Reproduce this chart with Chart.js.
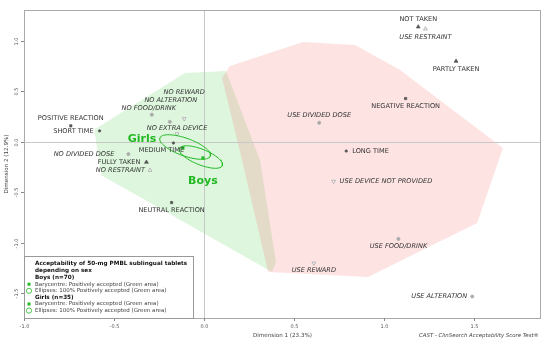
<!DOCTYPE html>
<html>
<head>
<meta charset="utf-8">
<script src="https://cdn.jsdelivr.net/npm/chart.js@4.4.0/dist/chart.umd.min.js"></script>
<style>
  html, body { margin: 0; padding: 0; background: #fff; }
  #wrap { width: 550px; height: 346px; }
</style>
</head>
<body>
<div id="wrap"><canvas id="mcaChart" width="550" height="346"></canvas></div>
<script>
// modalities of the MCA map
var modNames = ['NOT TAKEN', 'USE RESTRAINT', 'PARTLY TAKEN', 'NEGATIVE REACTION', 'USE DIVIDED DOSE',
    'LONG TIME', 'USE DEVICE NOT PROVIDED', 'USE FOOD/DRINK', 'USE REWARD', 'USE ALTERATION',
    'NEUTRAL REACTION', 'MEDIUM TIME', 'NO EXTRA DEVICE', 'NO REWARD', 'NO ALTERATION',
    'NO FOOD/DRINK', 'POSITIVE REACTION', 'SHORT TIME', 'NO DIVIDED DOSE', 'FULLY TAKEN', 'NO RESTRAINT'];
var dim1 = [1.19, 1.23, 1.40, 1.12, 0.64, 0.79, 0.72, 1.08, 0.61, 1.49,
    -0.18, -0.17, -0.15, -0.11, -0.19, -0.29, -0.74, -0.58, -0.42, -0.32, -0.30];
var dim2 = [1.14, 1.12, 0.80, 0.43, 0.19, -0.09, -0.39, -0.96, -1.20, -1.53,
    -0.60, -0.01, 0.08, 0.23, 0.20, 0.27, 0.16, 0.11, -0.12, -0.20, -0.28];
var modKind = ['tri', 'triOpen', 'tri', 'sq', 'dotGray', 'dot', 'down', 'dotGray', 'down', 'dotGray',
    'sq', 'dot', 'down', 'down', 'dotGray', 'dotGray', 'sq', 'dot', 'dotGray', 'tri', 'triOpen'];

// barycentres of the groups
var groupNames = ['Girls', 'Boys'];
var groupDim1 = [-0.117, -0.006];
var groupDim2 = [-0.059, -0.158];

// 100% confidence ellipses: centre and the two semi-axis vectors (data units)
var ellCentre = [[-0.105, -0.05], [-0.017, -0.149]];
var ellMajor = [[0.140, -0.090], [0.119, -0.085]];
var ellMinor = [[-0.017, -0.082], [-0.016, -0.072]];

// acceptability areas (hulls)
var greenArea = [[-0.61, 0.12], [-0.106, 0.683], [0.122, 0.703], [0.311, -0.178], [0.40, -1.188],
    [0.378, -1.287], [-0.57, -0.33]];
var redArea = [[0.10, 0.634], [0.144, 0.752], [0.55, 0.99], [0.839, 0.96], [1.089, 0.713],
    [1.661, -0.059], [1.517, -0.802], [0.911, -1.337], [0.356, -1.287], [0.211, -0.178]];

var xTicks = [-1.0, -0.5, 0.0, 0.5, 1.0, 1.5];
var yTicks = [1.0, 0.5, 0.0, -0.5, -1.0, -1.5];

var legendTitle = ['Acceptability of 50-mg PMBL sublingual tablets', 'depending on sex'];
var legendGroups = ['Boys (n=70)', 'Girls (n=35)'];
var legendItems = ['Barycentre: Positively accepted (Green area)', 'Ellipses: 100% Positively accepted (Green area)'];

// label placement for each modality: [dx, dy, align]
var labelPlace = [
    [0, -8, 'center'], [0, 8, 'center'], [0, 8, 'center'], [0, 8, 'center'], [0, -8, 'center'],
    [6, 0, 'left'], [6, 0, 'left'], [0, 7, 'center'], [0, 7, 'center'], [-5, 0, 'right'],
    [0, 8, 'center'], [-12, 7, 'center'], [0, -6, 'center'], [0, -26, 'center'], [1, -22, 'center'],
    [-3, -6, 'center'], [0, -8, 'center'], [-6, 0, 'right'], [-14, 0, 'right'], [-6, 0, 'right'], [-5, 0, 'right']
];
var groupLabelPlace = [[-41, -9], [0, 23]];

var GREEN = '#22b822';
var FONT = '"DejaVu Sans", sans-serif';

var kindStyle = {
    tri:     { pointStyle: 'triangle', rotation: 0,   fill: '#555', stroke: '#555', r: 2.2 },
    triOpen: { pointStyle: 'triangle', rotation: 0,   fill: '#fff', stroke: '#999', r: 2.2 },
    sq:      { pointStyle: 'rect',     rotation: 0,   fill: '#555', stroke: '#555', r: 1.6 },
    dot:     { pointStyle: 'circle',   rotation: 0,   fill: '#555', stroke: '#555', r: 1.2 },
    dotGray: { pointStyle: 'circle',   rotation: 0,   fill: '#aaa', stroke: '#aaa', r: 1.6 },
    down:    { pointStyle: 'triangle', rotation: 180, fill: '#fff', stroke: '#999', r: 2.2 }
};

var modPoints = [];
for (var i = 0; i < modNames.length; i++) {
    modPoints.push({ x: dim1[i], y: dim2[i] });
}
var groupPoints = [];
for (var i = 0; i < groupNames.length; i++) {
    groupPoints.push({ x: groupDim1[i], y: groupDim2[i] });
}

function ellipsePoints(k) {
    var pts = [];
    for (var s = 0; s <= 72; s++) {
        var t = s / 72 * Math.PI * 2;
        pts.push({
            x: ellCentre[k][0] + ellMajor[k][0] * Math.cos(t) + ellMinor[k][0] * Math.sin(t),
            y: ellCentre[k][1] + ellMajor[k][1] * Math.cos(t) + ellMinor[k][1] * Math.sin(t)
        });
    }
    return pts;
}

function drawArea(ctx, xs, ys, area, color) {
    ctx.beginPath();
    for (var i = 0; i < area.length; i++) {
        var px = xs.getPixelForValue(area[i][0]);
        var py = ys.getPixelForValue(area[i][1]);
        if (i == 0) ctx.moveTo(px, py); else ctx.lineTo(px, py);
    }
    ctx.closePath();
    ctx.fillStyle = color;
    ctx.fill();
}

var backgroundPlugin = {
    id: 'background',
    beforeDatasetsDraw: function (chart) {
        var ctx = chart.ctx, a = chart.chartArea;
        var xs = chart.scales.x, ys = chart.scales.y;
        ctx.save();
        ctx.beginPath();
        ctx.rect(a.left, a.top, a.right - a.left, a.bottom - a.top);
        ctx.clip();
        ctx.lineJoin = 'round';
        drawArea(ctx, xs, ys, greenArea, 'rgba(120,220,120,0.25)');
        drawArea(ctx, xs, ys, redArea, 'rgba(250,128,128,0.22)');
        // zero lines
        ctx.strokeStyle = '#c8c8c8';
        ctx.lineWidth = 1;
        var x0 = Math.round(xs.getPixelForValue(0)) + 0.5;
        var y0 = Math.round(ys.getPixelForValue(0)) + 0.5;
        ctx.beginPath();
        ctx.moveTo(x0, a.top); ctx.lineTo(x0, a.bottom);
        ctx.moveTo(a.left, y0); ctx.lineTo(a.right, y0);
        ctx.stroke();
        ctx.restore();
    },
    afterDatasetsDraw: function (chart) {
        var ctx = chart.ctx;
        var xs = chart.scales.x, ys = chart.scales.y;
        ctx.save();
        // modality labels
        ctx.textBaseline = 'middle';
        ctx.fillStyle = '#333';
        for (var i = 0; i < modNames.length; i++) {
            var italic = modNames[i].indexOf('NO ') == 0 || modNames[i].indexOf('USE ') == 0;
            ctx.font = (italic ? 'italic ' : '') + '6.6px ' + FONT;
            ctx.textAlign = labelPlace[i][2];
            ctx.fillText(modNames[i], xs.getPixelForValue(dim1[i]) + labelPlace[i][0],
                ys.getPixelForValue(dim2[i]) + labelPlace[i][1]);
        }
        // group labels
        ctx.font = 'bold 11px ' + FONT;
        ctx.fillStyle = GREEN;
        ctx.textAlign = 'center';
        for (var i = 0; i < groupNames.length; i++) {
            ctx.fillText(groupNames[i], xs.getPixelForValue(groupDim1[i]) + groupLabelPlace[i][0],
                ys.getPixelForValue(groupDim2[i]) + groupLabelPlace[i][1]);
        }
        ctx.restore();
    },
    afterDraw: function (chart) {
        var ctx = chart.ctx, a = chart.chartArea;
        var xs = chart.scales.x, ys = chart.scales.y;
        ctx.save();
        // frame
        ctx.strokeStyle = '#aaa';
        ctx.lineWidth = 1;
        ctx.strokeRect(a.left + 0.5, a.top + 0.5, a.right - a.left - 1, a.bottom - a.top);
        // ticks
        ctx.fillStyle = '#555';
        ctx.strokeStyle = '#888';
        ctx.font = '5px ' + FONT;
        ctx.textAlign = 'center';
        ctx.textBaseline = 'middle';
        for (var i = 0; i < xTicks.length; i++) {
            var px = Math.round(xs.getPixelForValue(xTicks[i])) + 0.5;
            ctx.beginPath(); ctx.moveTo(px, a.bottom); ctx.lineTo(px, a.bottom + 3); ctx.stroke();
            ctx.fillText(xTicks[i].toFixed(1), px, a.bottom + 9);
        }
        for (var i = 0; i < yTicks.length; i++) {
            var py = Math.round(ys.getPixelForValue(yTicks[i])) + 0.5;
            ctx.beginPath(); ctx.moveTo(a.left - 3, py); ctx.lineTo(a.left, py); ctx.stroke();
            ctx.save();
            ctx.translate(a.left - 7, py);
            ctx.rotate(-Math.PI / 2);
            ctx.fillText(yTicks[i].toFixed(1), 0, 0);
            ctx.restore();
        }
        // axis titles
        ctx.fillStyle = '#444';
        ctx.font = '5.6px ' + FONT;
        ctx.fillText('Dimension 1 (23.3%)', (a.left + a.right) / 2, 336);
        ctx.save();
        ctx.translate(7, (a.top + a.bottom) / 2);
        ctx.rotate(-Math.PI / 2);
        ctx.fillText('Dimension 2 (12.9%)', 0, 0);
        ctx.restore();
        ctx.font = 'italic 5.4px ' + FONT;
        ctx.textAlign = 'right';
        ctx.fillText('CAST - ClinSearch Acceptability Score Test\u00ae', 539, 336);

        // legend box
        var bx = a.left, by = 256, bw = 169, bh = a.bottom - 256;
        ctx.fillStyle = '#fff';
        ctx.fillRect(bx, by, bw, bh);
        ctx.strokeStyle = '#999';
        ctx.strokeRect(bx + 0.5, by + 0.5, bw, bh);
        ctx.textAlign = 'left';
        ctx.fillStyle = '#111';
        var ly = by + 8;
        ctx.font = 'bold 5.7px ' + FONT;
        for (var i = 0; i < legendTitle.length; i++) {
            ctx.fillText(legendTitle[i], bx + 11, ly);
            ly += 6.8;
        }
        for (var g = 0; g < legendGroups.length; g++) {
            ctx.font = 'bold 5.7px ' + FONT;
            ctx.fillStyle = '#111';
            ctx.fillText(legendGroups[g], bx + 11, ly);
            ly += 6.6;
            ctx.font = '5.5px ' + FONT;
            for (var k = 0; k < legendItems.length; k++) {
                if (k == 0) {
                    ctx.fillStyle = GREEN;
                    ctx.fillRect(bx + 3.5, ly - 1.5, 3, 3);
                } else {
                    ctx.strokeStyle = GREEN;
                    ctx.lineWidth = 0.8;
                    ctx.beginPath(); ctx.arc(bx + 5, ly, 2.6, 0, Math.PI * 2); ctx.stroke();
                }
                ctx.fillStyle = '#444';
                ctx.fillText(legendItems[k], bx + 11, ly);
                ly += 6.6;
            }
        }
        ctx.restore();
    }
};

var ctx = document.getElementById('mcaChart').getContext('2d');
var mcaChart = new Chart(ctx, {
    type: 'scatter',
    data: {
        datasets: [{
            label: 'Girls ellipse',
            data: ellipsePoints(0),
            showLine: true,
            borderColor: GREEN,
            borderWidth: 1,
            pointRadius: 0,
            fill: false
        }, {
            label: 'Boys ellipse',
            data: ellipsePoints(1),
            showLine: true,
            borderColor: GREEN,
            borderWidth: 1,
            pointRadius: 0,
            fill: false
        }, {
            label: 'Modalities',
            data: modPoints,
            pointStyle: modKind.map(function (k) { return kindStyle[k].pointStyle; }),
            rotation: modKind.map(function (k) { return kindStyle[k].rotation; }),
            backgroundColor: modKind.map(function (k) { return kindStyle[k].fill; }),
            borderColor: modKind.map(function (k) { return kindStyle[k].stroke; }),
            pointRadius: modKind.map(function (k) { return kindStyle[k].r; }),
            borderWidth: 0.7
        }, {
            label: 'Barycentres',
            data: groupPoints,
            pointStyle: 'rect',
            backgroundColor: GREEN,
            borderColor: GREEN,
            pointRadius: 2.2,
            borderWidth: 0
        }]
    },
    options: {
        responsive: false,
        animation: false,
        devicePixelRatio: 1,
        layout: { padding: { left: 24, top: 10, right: 9, bottom: 28 } },
        plugins: { legend: { display: false }, tooltip: { enabled: false } },
        scales: {
            x: { type: 'linear', min: -1.0, max: 1.872, display: false },
            y: { type: 'linear', min: -1.743, max: 1.307, display: false }
        }
    },
    plugins: [backgroundPlugin]
});
</script>
</body>
</html>
